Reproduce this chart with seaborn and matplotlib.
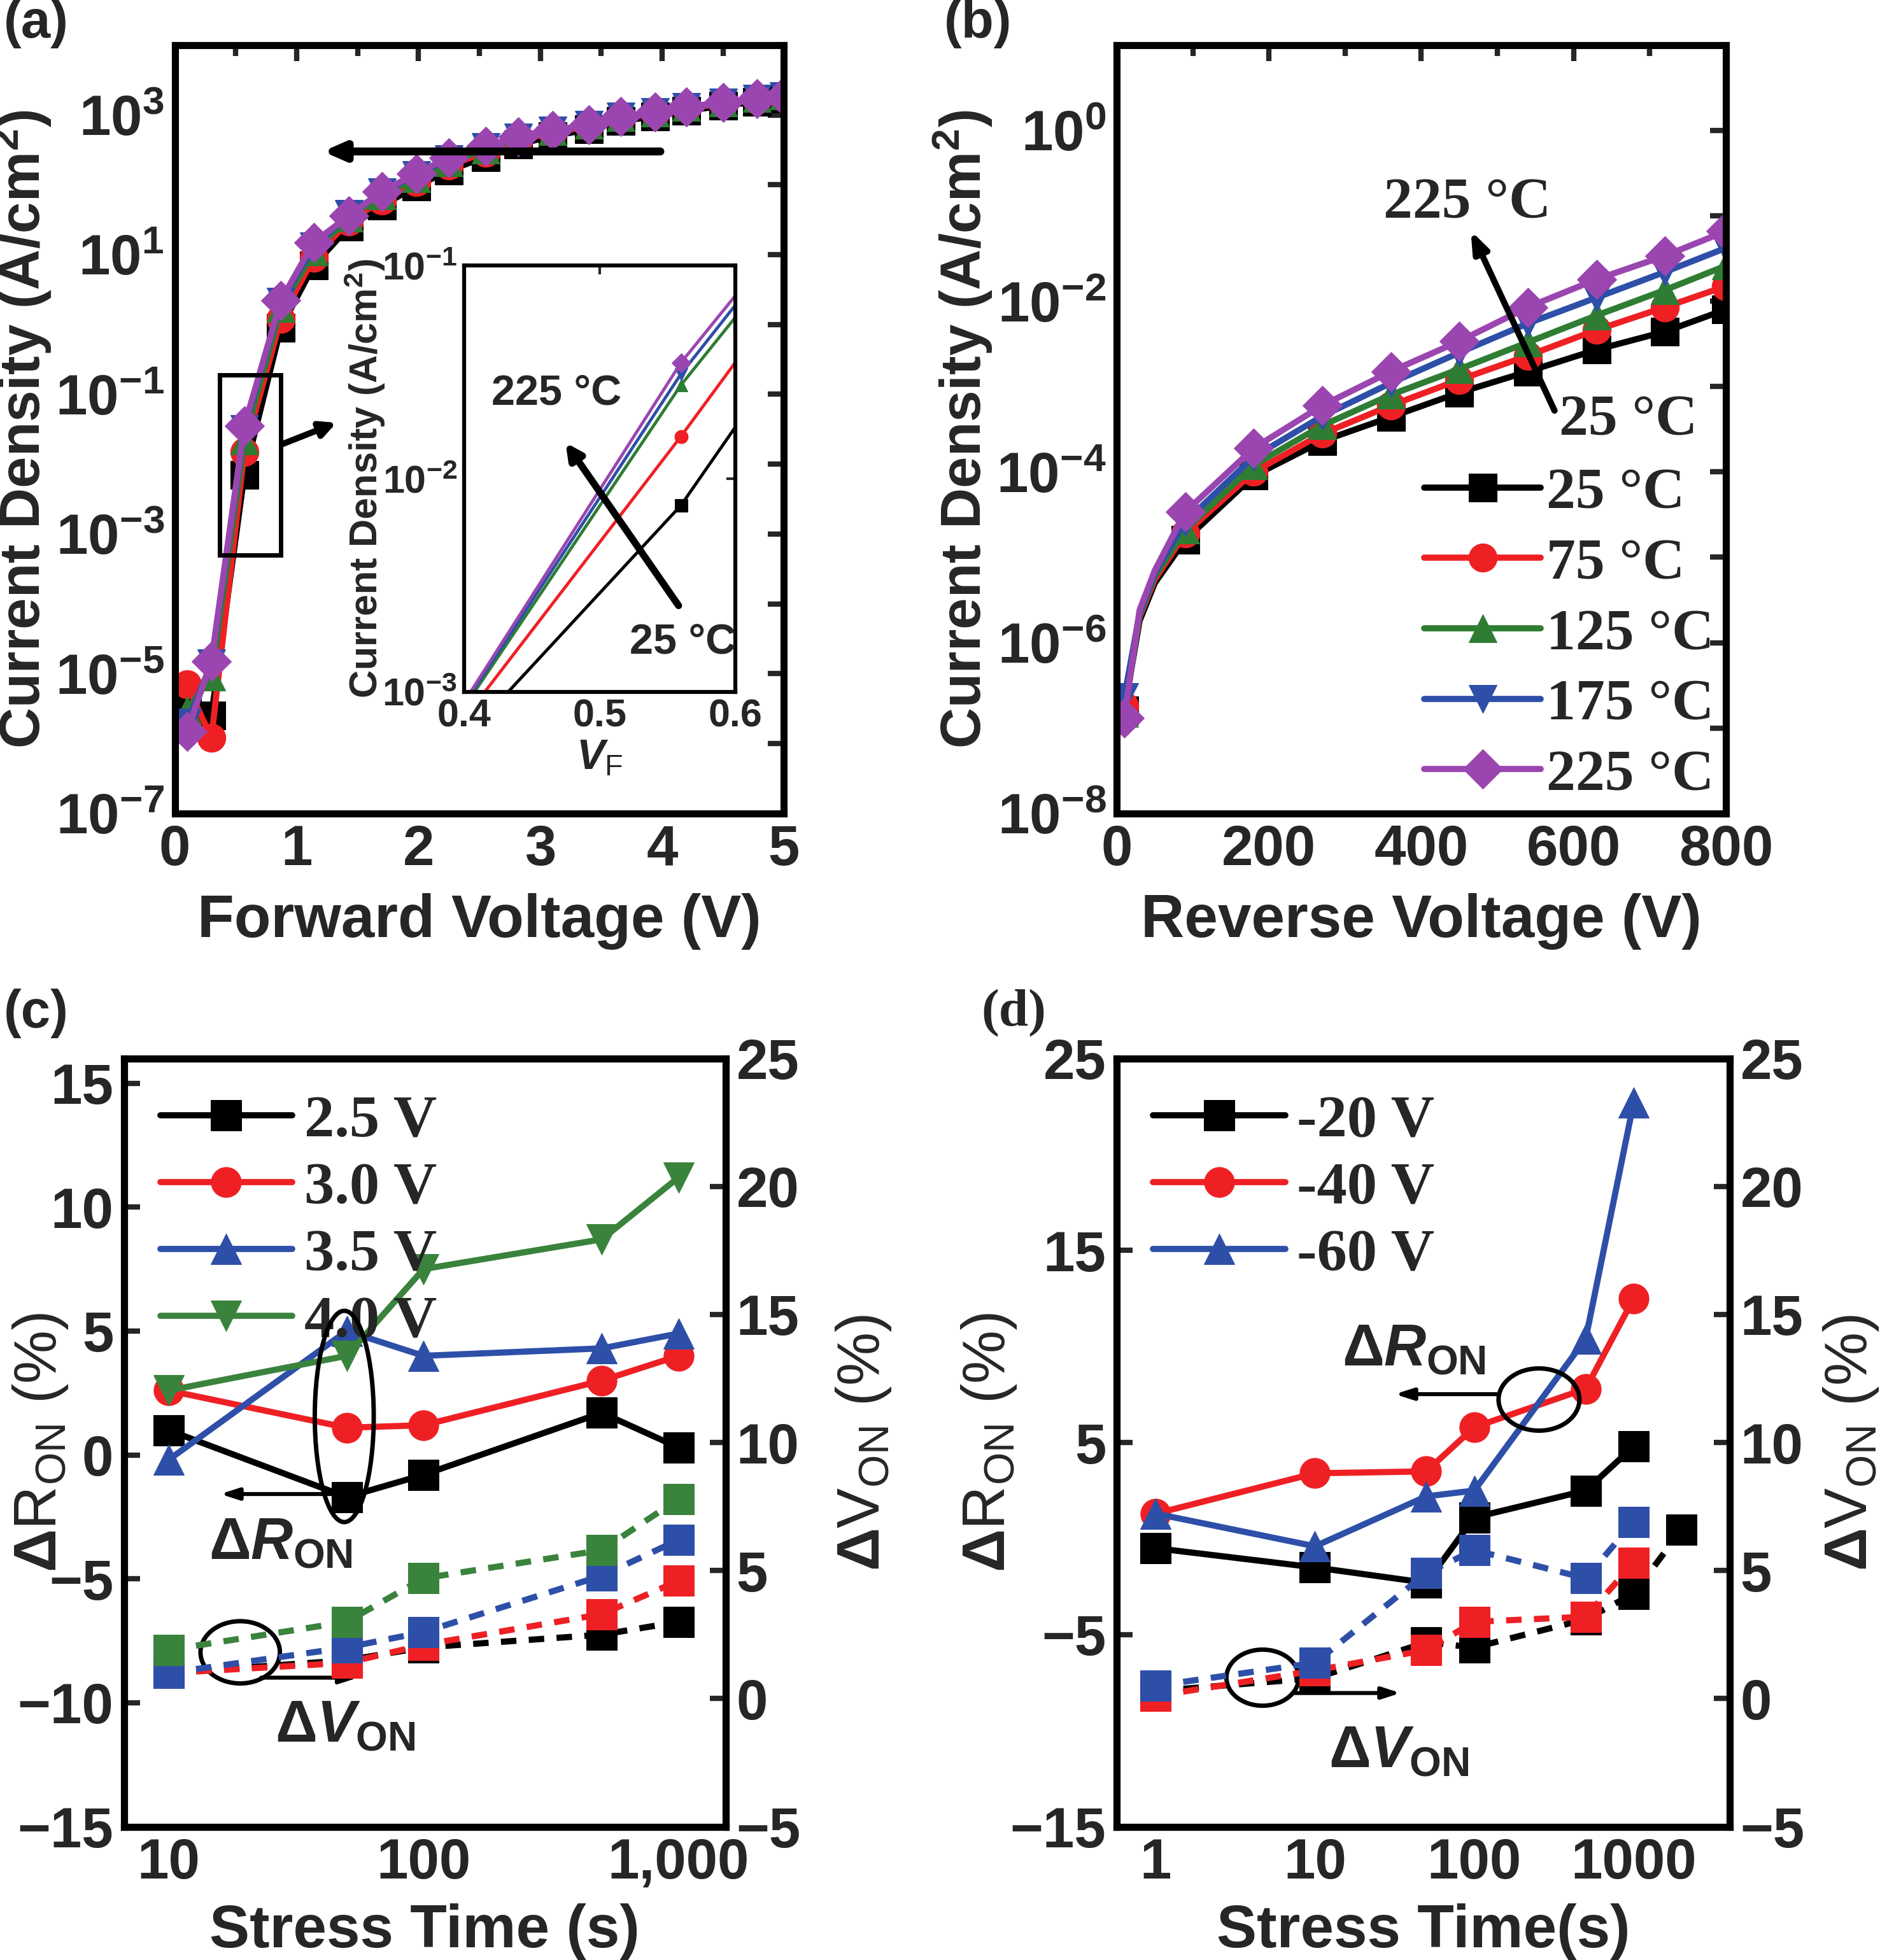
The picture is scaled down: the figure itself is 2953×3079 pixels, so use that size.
import numpy as np
import matplotlib
matplotlib.use("Agg")
import matplotlib.pyplot as plt
import seaborn as sns
from matplotlib.patches import Ellipse, Rectangle
from matplotlib.ticker import LogLocator, FixedLocator, FuncFormatter

# ---------------- data ----------------
temps = ["25 °C", "75 °C", "125 °C", "175 °C", "225 °C"]
t_colors = ["#000000", "#ee2024", "#2e7d32", "#2e4fa8", "#9b46b0"]
t_markers = ["s", "o", "^", "v", "D"]

# (a) forward J-V
vf = [0.1, 0.3, 0.57, 0.87, 1.14, 1.43, 1.7, 1.98, 2.25, 2.55, 2.82, 3.1, 3.4, 3.66, 3.94, 4.2, 4.5, 4.78, 5.0]
jf_25 = [3e-6, 2.5e-6, 7e-3, 0.9, 7, 25, 50, 95, 160, 250, 380, 500, 620, 820, 950, 1150, 1350, 1550, 1700]
jf_75 = [7e-6, 1.2e-6, 1.5e-2, 1.2, 9, 30, 60, 110, 190, 290, 430, 560, 690, 900, 1050, 1250, 1450, 1650, 1800]
jf_125 = [3e-6, 9e-6, 2.2e-2, 1.7, 11, 34, 70, 125, 210, 320, 460, 590, 720, 930, 1080, 1300, 1500, 1750, 1900]
jf_175 = [2e-6, 1.4e-5, 3.2e-2, 2.1, 13, 38, 78, 138, 235, 345, 480, 600, 720, 940, 1100, 1300, 1500, 1700, 1850]
jf_225 = [1.5e-6, 1.5e-5, 3.5e-2, 2.2, 15, 36, 80, 145, 245, 355, 490, 600, 720, 950, 1100, 1300, 1500, 1700, 1850]
jf_all = [jf_25, jf_75, jf_125, jf_175, jf_225]

# (a) inset
vin = [0.40, 0.56, 0.60]
jin_25 = [6e-4, 7.5e-3, 1.74e-2]
jin_75 = [7.5e-4, 1.58e-2, 3.5e-2]
jin_125 = [8.5e-4, 2.75e-2, 5.7e-2]
jin_175 = [8.8e-4, 3.1e-2, 6.5e-2]
jin_225 = [9e-4, 3.5e-2, 7.2e-2]
jin_all = [jin_25, jin_75, jin_125, jin_175, jin_225]

# (b) reverse J-V
vr = [10, 30, 50, 90, 180, 270, 360, 450, 540, 630, 720, 800]
jr_25 = [1.6e-7, 1.8e-6, 5e-6, 1.6e-5, 9e-5, 2.3e-4, 4.4e-4, 8.5e-4, 1.5e-3, 2.7e-3, 4.4e-3, 8e-3]
jr_75 = [1.8e-7, 2.0e-6, 5.5e-6, 1.9e-5, 1.0e-4, 2.8e-4, 6e-4, 1.2e-3, 2.3e-3, 4.6e-3, 8.5e-3, 1.5e-2]
jr_125 = [1.5e-7, 2.1e-6, 6e-6, 2.1e-5, 1.2e-4, 3.5e-4, 8e-4, 1.6e-3, 3.3e-3, 6.8e-3, 1.35e-2, 2.6e-2]
jr_175 = [2.3e-7, 2.2e-6, 6.5e-6, 2.6e-5, 1.5e-4, 4.5e-4, 1.1e-3, 2.5e-3, 5.5e-3, 1.1e-2, 2.2e-2, 4.2e-2]
jr_225 = [1.3e-7, 2.4e-6, 7e-6, 3.4e-5, 1.9e-4, 6e-4, 1.5e-3, 3.4e-3, 8.5e-3, 1.8e-2, 3.4e-2, 6.6e-2]
jr_all = [jr_25, jr_75, jr_125, jr_175, jr_225]
vr_marked = [0, 3, 4, 5, 6, 7, 8, 9, 10, 11]

# (c) forward stress
c_labels = ["2.5 V", "3.0 V", "3.5 V", "4.0 V"]
c_colors = ["#000000", "#ee2024", "#2e4fa8", "#3a833c"]
c_markers = ["s", "o", "^", "v"]
c_time = [10, 50, 100, 500, 1000]
c_ron = [[1.0, -1.7, -0.8, 1.7, 0.3],
         [2.6, 1.1, 1.2, 3.0, 4.0],
         [-0.2, 5.0, 4.0, 4.3, 4.9],
         [2.6, 4.0, 7.5, 8.7, 11.2]]
c_von = [[1.0, 1.5, 2.0, 2.5, 3.0],
         [1.0, 1.4, 2.1, 3.3, 4.6],
         [1.0, 2.0, 2.6, 4.8, 6.2],
         [1.9, 3.0, 4.7, 5.8, 7.8]]

# (d) reverse stress
d_labels = ["-20 V", "-40 V", "-60 V"]
d_colors = ["#000000", "#ee2024", "#2e4fa8"]
d_markers = ["s", "o", "^"]
d_time = [1, 10, 50, 100, 500, 1000]
d_ron = [[-0.5, -1.5, -2.3, 1.1, 2.5, 4.8],
         [1.3, 3.4, 3.5, 5.8, 7.8, 12.5],
         [1.3, -0.4, 2.2, 2.5, 10.4, 22.7]]
d_von_time = [[1, 10, 50, 100, 500, 1000, 2000],
              [1, 10, 50, 100, 500, 1000],
              [1, 10, 50, 100, 500, 1000]]
d_von = [[0.3, 0.8, 2.2, 2.0, 3.1, 4.1, 6.6],
         [0.1, 1.1, 1.9, 3.0, 3.2, 5.3],
         [0.5, 1.4, 4.9, 5.8, 4.7, 6.9]]

# ---------------- style ----------------
sns.set_theme(style="white")
plt.rcParams["font.family"] = ["Liberation Sans", "DejaVu Sans"]
plt.rcParams["font.weight"] = "bold"
plt.rcParams["mathtext.fontset"] = "custom"
plt.rcParams["mathtext.rm"] = "Liberation Sans:bold"
plt.rcParams["mathtext.it"] = "Liberation Sans:italic:bold"
plt.rcParams["mathtext.bf"] = "Liberation Sans:bold"
plt.rcParams["axes.unicode_minus"] = True

FS = 64
LW = 7
MS = 32
SPW = 8
serif = {"family": ["Liberation Serif", "DejaVu Serif"], "weight": "bold"}

fig = plt.figure(figsize=(29.53, 30.79), dpi=100)
ax_a = fig.add_axes([0.093, 0.585, 0.324, 0.392])
ax_b = fig.add_axes([0.594, 0.585, 0.324, 0.392])
ax_c = fig.add_axes([0.066, 0.068, 0.320, 0.392])
ax_d = fig.add_axes([0.594, 0.068, 0.326, 0.392])


def frame(ax):
    for s in ax.spines.values():
        s.set_linewidth(SPW)
        s.set_color("black")
    ax.tick_params(which="both", direction="in", width=6, length=18,
                   labelsize=FS, top=True, right=True, pad=12)
    ax.tick_params(which="minor", length=12)


def decade_fmt(step, offset):
    def f(v, pos):
        e = int(round(np.log10(v)))
        if (e - offset) % step:
            return ""
        return r"$\mathdefault{10^{%d}}$" % e
    return FuncFormatter(f)


# ---------------- (a) ----------------
for j, c, m in zip(jf_all, t_colors, t_markers):
    sns.lineplot(x=vf, y=j, ax=ax_a, color=c, linewidth=LW, marker=m, markersize=MS,
                 markeredgecolor=c, estimator=None, sort=False)
ax_a.set_yscale("log")
ax_a.set_xlim(0, 5)
ax_a.set_ylim(1e-7, 1e4)
ax_a.yaxis.set_major_locator(LogLocator(base=10, numticks=20))
ax_a.yaxis.set_minor_locator(FixedLocator([]))
ax_a.yaxis.set_major_formatter(decade_fmt(2, 1))
ax_a.set_xticks([0, 1, 2, 3, 4, 5])
ax_a.set_xticks(np.arange(0.5, 5, 1), minor=True)
frame(ax_a)
ax_a.set_xlabel("Forward Voltage (V)", fontsize=FS + 4, fontweight="bold", labelpad=18)
ax_a.set_ylabel(r"Current Density (A/cm$^{\mathregular{2}}$)", fontsize=FS, fontweight="bold", labelpad=2)
ax_a.annotate("", xy=(1.2, 300), xytext=(4.0, 300),
              arrowprops=dict(arrowstyle="-|>,head_length=1.6,head_width=0.7", lw=9, color="black"))
ax_a.add_patch(Rectangle((0.37, 5e-4), 0.5, 0.19 - 5e-4, fill=False, lw=5, ec="black", zorder=5))
ax_a.annotate("", xy=(1.34, 0.04), xytext=(0.87, 0.019),
              arrowprops=dict(arrowstyle="-|>,head_length=1.2,head_width=0.6", lw=7, color="black"))

ins = fig.add_axes([0.247, 0.647, 0.144, 0.2175])
for j, c, m in zip(jin_all, t_colors, t_markers):
    sns.lineplot(x=vin, y=j, ax=ins, color=c, linewidth=3.5, marker=m, markersize=15,
                 markeredgecolor=c, markevery=[1], estimator=None, sort=False)
ins.set_yscale("log")
ins.set_xlim(0.4, 0.6)
ins.set_ylim(1e-3, 1e-1)
ins.set_xticks([0.4, 0.5, 0.6])
ins.yaxis.set_major_locator(FixedLocator([1e-3, 1e-2, 1e-1]))
ins.yaxis.set_minor_locator(FixedLocator([]))
ins.yaxis.set_major_formatter(FuncFormatter(lambda v, p: r"$\mathdefault{10^{%d}}$" % round(np.log10(v))))
for s in ins.spines.values():
    s.set_linewidth(4.5)
    s.set_color("black")
ins.tick_params(direction="in", width=3, length=10, labelsize=44, pad=8, top=True, right=True)
ins.set_xlabel(r"$V_{\mathregular{F}}$", fontsize=48, labelpad=4)
ins.set_ylabel(r"Current Density (A/cm$^{\mathregular{2}}$)", fontsize=44, fontweight="bold", labelpad=-6)
ins.annotate("", xy=(0.474, 0.015), xytext=(0.559, 2.5e-3),
             arrowprops=dict(arrowstyle="-|>,head_length=1.2,head_width=0.6", lw=8, color="black"))
ins.text(0.42, 0.025, "225 °C", fontsize=48, fontweight="bold", va="center")
ins.text(0.522, 1.7e-3, "25 °C", fontsize=48, fontweight="bold", va="center")

# ---------------- (b) ----------------
for j, c, m, lab in zip(jr_all, t_colors, t_markers, temps):
    sns.lineplot(x=vr, y=j, ax=ax_b, color=c, linewidth=LW, marker=m, markersize=MS,
                 markeredgecolor=c, markevery=vr_marked, estimator=None, sort=False, label=lab)
ax_b.set_yscale("log")
ax_b.set_xlim(0, 800)
ax_b.set_ylim(1e-8, 1e1)
ax_b.yaxis.set_major_locator(LogLocator(base=10, numticks=20))
ax_b.yaxis.set_minor_locator(FixedLocator([]))
ax_b.yaxis.set_major_formatter(decade_fmt(2, 0))
ax_b.set_xticks([0, 200, 400, 600, 800])
ax_b.set_xticks([100, 300, 500, 700], minor=True)
frame(ax_b)
ax_b.set_xlabel("Reverse Voltage (V)", fontsize=FS + 4, fontweight="bold", labelpad=18)
ax_b.set_ylabel(r"Current Density (A/cm$^{\mathregular{2}}$)", fontsize=FS, fontweight="bold", labelpad=2)
ax_b.legend(loc="lower right", prop=dict(size=66, **serif), frameon=False, handlelength=2.0,
            labelspacing=0.3, handletextpad=0.1, borderaxespad=0.0, borderpad=0.2)
ax_b.annotate("", xy=(464, 0.07), xytext=(576, 5e-4),
              arrowprops=dict(arrowstyle="-|>,head_length=1.6,head_width=0.6", lw=7, color="black"))
ax_b.text(460, 0.14, "225 °C", fontsize=66, fontdict=serif, ha="center", va="center")
ax_b.text(672, 4e-4, "25 °C", fontsize=66, fontdict=serif, ha="center", va="center")


# ---------------- (c) / (d) ----------------
def stress(ax, times, ron, von_t, von, labels, colors, markers, ylim_l, yt_l, xlim, xticks, xlabels,
           xlabel, lpos, rpos):
    axr = ax.twinx()
    for r, c, m, lab in zip(ron, colors, markers, labels):
        sns.lineplot(x=times, y=r, ax=ax, color=c, linewidth=LW, marker=m, markersize=MS + 2,
                     markeredgecolor=c, estimator=None, sort=False, label=lab, zorder=3)
    for t, v, c in zip(von_t, von, colors):
        sns.lineplot(x=t, y=v, ax=axr, color=c, linewidth=LW, linestyle=(0, (2.5, 2)), marker="s",
                     markersize=MS + 2, markeredgecolor=c, estimator=None, sort=False, zorder=2)
    ax.set_xscale("log")
    ax.set_xlim(*xlim)
    ax.set_ylim(*ylim_l)
    ax.set_yticks(yt_l)
    ax.set_xticks(xticks)
    ax.set_xticklabels(xlabels)
    ax.xaxis.set_minor_locator(FixedLocator([]))
    axr.set_ylim(-5, 25)
    axr.set_yticks([-5, 0, 5, 10, 15, 20, 25])
    frame(ax)
    ax.tick_params(right=False, top=False)
    frame(axr)
    axr.tick_params(left=False, top=False)
    ax.set_xlabel(xlabel, fontsize=FS + 4, fontweight="bold", labelpad=14)
    ax.set_ylabel(r"$\Delta$R$_{\mathregular{ON}}$ (%)", fontsize=FS + 4)
    ax.yaxis.set_label_coords(lpos, 0.5)
    axr.set_ylabel(r"$\Delta$V$_{\mathregular{ON}}$ (%)", fontsize=FS + 4)
    axr.yaxis.set_label_coords(rpos, 0.5)
    ax.legend(loc="upper left", prop=dict(size=68, **serif), frameon=False, handlelength=2.2,
              labelspacing=0.2, handletextpad=0.2, borderaxespad=0.2)
    return axr


axr_c = stress(ax_c, c_time, c_ron, [c_time] * 4, c_von, c_labels, c_colors, c_markers,
               (-15, 16), [-15, -10, -5, 0, 5, 10, 15], (6.7, 1530), [10, 100, 1000],
               ["10", "100", "1,000"], "Stress Time (s)", -0.09, 1.18)
axr_d = stress(ax_d, d_time, d_ron, d_von_time, d_von, d_labels, d_colors, d_markers,
               (-15, 25), [-15, -5, 5, 15, 25], (0.57, 4000), [1, 10, 100, 1000],
               ["1", "10", "100", "1000"], "Stress Time(s)", -0.16, 1.15)

arrow = dict(arrowstyle="-|>,head_length=1.4,head_width=0.45", lw=4.5, color="black")
for ax, el, ar, tx in [
    (ax_c, [(0.366, 0.534, 0.098, 0.275), (0.193, 0.227, 0.132, 0.081)],
     [((0.157, 0.433), (0.366, 0.433)), ((0.392, 0.194), (0.225, 0.194))],
     [(0.26, 0.368), (0.368, 0.13)]),
    (ax_d, [(0.689, 0.556, 0.132, 0.081), (0.238, 0.194, 0.118, 0.073)],
     [((0.451, 0.563), (0.623, 0.563)), ((0.466, 0.174), (0.284, 0.174))],
     [(0.485, 0.62), (0.461, 0.097)]),
]:
    for cx, cy, w, h in el:
        ax.add_patch(Ellipse((cx, cy), w, h, transform=ax.transAxes, fill=False, lw=5, ec="black", zorder=6))
    for head, tail in ar:
        ax.annotate("", xy=head, xytext=tail, xycoords="axes fraction", textcoords="axes fraction",
                    arrowprops=arrow, zorder=6)
    ax.text(*tx[0], r"$\Delta \mathit{R}_{\mathregular{ON}}$", transform=ax.transAxes,
            fontsize=66, ha="center", va="center", zorder=6)
    ax.text(*tx[1], r"$\Delta \mathit{V}_{\mathregular{ON}}$", transform=ax.transAxes,
            fontsize=66, ha="center", va="center", zorder=6)

for lab, x, y in [("(a)", 0.002, 0.988), ("(b)", 0.502, 0.988), ("(c)", 0.002, 0.483), ("(d)", 0.522, 0.483)]:
    fig.text(x, y, lab, fontsize=60, fontweight="bold", va="center", ha="left",
             family=["Liberation Serif"] if lab == "(d)" else None)

fig.savefig("out.png", dpi=100)
